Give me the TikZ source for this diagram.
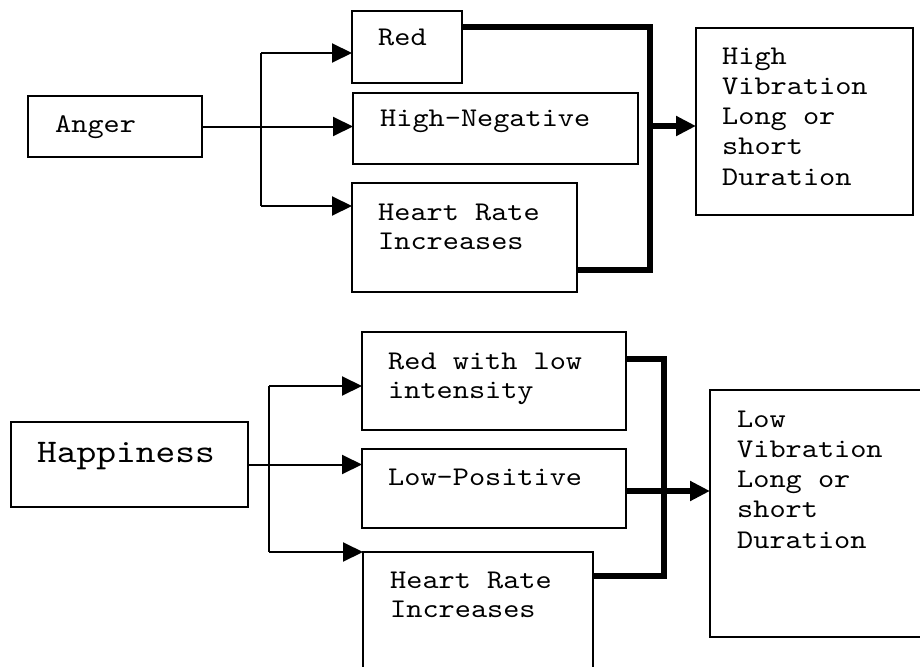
\documentclass[tikz,border=0pt]{standalone}
\usepackage{fontspec}
\newfontfamily\courlike{lmmono10-regular.otf}[FakeStretch=1.14]
\usetikzlibrary{arrows.meta}
\begin{document}
\begin{tikzpicture}[x=1pt,y=-1pt,
  box/.style={draw, line width=2pt, inner sep=0pt, outer sep=0pt, anchor=north west},
  txt/.style={font=\courlike\fontsize{27}{28.5}\selectfont, inner sep=0pt, anchor=base west, align=left},
  vtxt/.style={font=\courlike\fontsize{27}{30.2}\selectfont, inner sep=0pt, anchor=base west, align=left},
  bigtxt/.style={font=\courlike\fontsize{33}{38}\selectfont, inner sep=0pt, anchor=base west},
  thinline/.style={line width=2pt},
  heavyline/.style={line width=6pt, line join=miter},
  arr/.style={-{Triangle[length=20pt,width=19pt]}},
]
\useasboundingbox (0,0) rectangle (920,666);
\clip (0,0) rectangle (920,666);

% ---------- top group: Anger ----------
\node[box, minimum width=174pt, minimum height=61pt] (anger) at (28,96) {};
\node[box, minimum width=110pt, minimum height=72pt] (red) at (352,11) {};
\node[box, minimum width=285pt, minimum height=71pt] (hineg) at (353,93) {};
\node[box, minimum width=225pt, minimum height=109pt] (hr1) at (352,183) {};
\node[box, minimum width=217pt, minimum height=187pt] (hivib) at (696,28) {};

% multi-line texts: anchor = baseline of the last line
\node[txt] (tanger) at (55,132) {Anger};
\node[txt] (tred) at (378,46) {Red};
\node[txt] (thineg) at (380,127) {High-Negative};
\node[txt] (thr1) at (378,249) {Heart Rate\\Increases};
\node[vtxt] (thivib) at (722,185) {High\\Vibration\\Long or\\short\\Duration};

\coordinate (s1t) at (261,53);
\coordinate (s1b) at (261,206);
\draw[thinline] (s1t) -- (s1b);
\draw[thinline, arr] (anger.east) -- (hineg.west |- anger.east);
\draw[thinline, arr] (s1t) -- (red.west |- s1t);
\draw[thinline, arr] (s1b) -- (hr1.west |- s1b);

\coordinate (c1t) at (650,27);
\coordinate (c1m) at (650,126);
\coordinate (c1b) at (650,270);
\draw[heavyline] (red.east |- c1t) -- (c1t) -- (c1b) -- (hr1.east |- c1b);
\draw[heavyline, arr] (c1m) -- (hivib.west |- c1m);

% ---------- bottom group: Happiness ----------
\node[box, minimum width=237pt, minimum height=85pt] (happy) at (11,422) {};
\node[box, minimum width=264pt, minimum height=98pt] (redlow) at (362,332) {};
\node[box, minimum width=264pt, minimum height=79pt] (lowpos) at (362,449) {};
\node[box, minimum width=230pt, minimum height=150pt] (hr2) at (363,552) {};
\node[box, minimum width=240pt, minimum height=247pt] (lowvib) at (710,390) {};

\node[bigtxt] (thappy) at (37,462) {Happiness};
\node[txt] (tredlow) at (388,398) {Red with low\\intensity};
\node[txt] (tlowpos) at (388,485) {Low-Positive};
\node[txt] (thr2) at (390,617) {Heart Rate\\Increases};
\node[vtxt] (tlowvib) at (737,548) {Low\\Vibration\\Long or\\short\\Duration};

\coordinate (s2t) at (269,386);
\coordinate (s2b) at (269,552);
\draw[thinline] (s2t) -- (s2b);
\draw[thinline, arr] (happy.east) -- (lowpos.west |- happy.east);
\draw[thinline, arr] (s2t) -- (redlow.west |- s2t);
\draw[thinline, arr] (s2b) -- (hr2.west |- s2b);

\coordinate (c2t) at (664,359);
\coordinate (c2m) at (664,491);
\coordinate (c2b) at (664,576);
\draw[heavyline] (redlow.east |- c2t) -- (c2t) -- (c2b) -- (hr2.east |- c2b);
\draw[heavyline, arr] (lowpos.east |- c2m) -- (lowvib.west |- c2m);
\end{tikzpicture}
\end{document}
